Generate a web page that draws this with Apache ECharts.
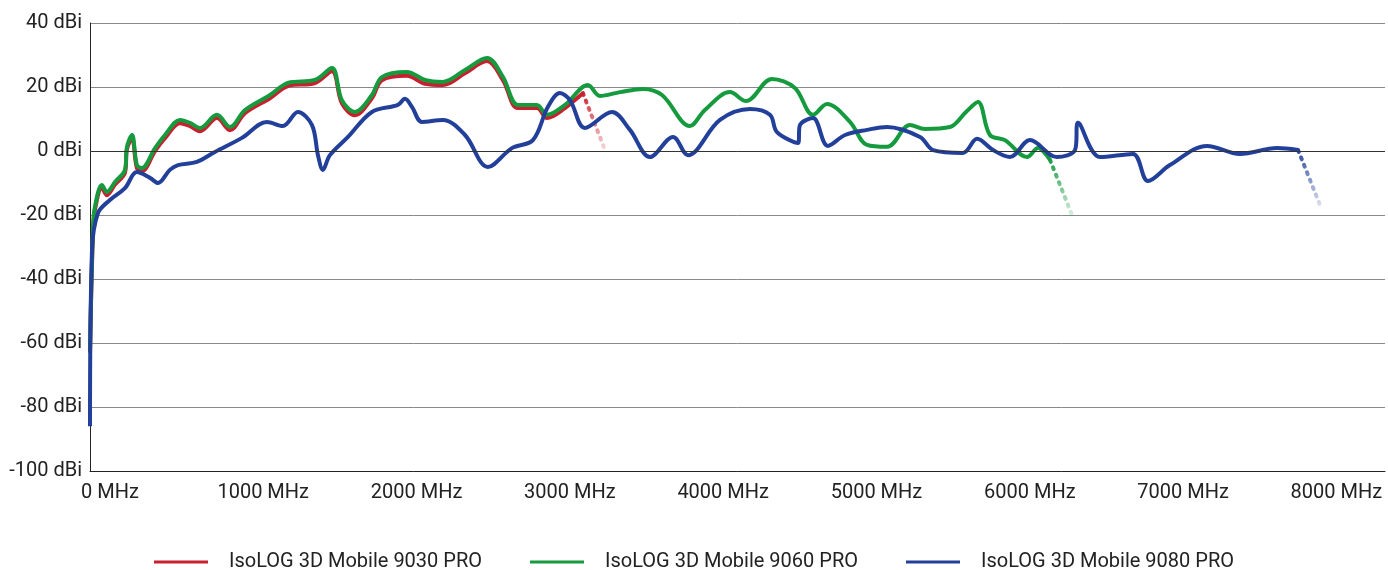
<!DOCTYPE html>
<html><head><meta charset="utf-8">
<script src="https://cdn.jsdelivr.net/npm/echarts@6/dist/echarts.min.js"></script>
<style>html,body{margin:0;padding:0;background:#fff}#c{width:1388px;height:570px}</style>
</head><body><div id="c"></div>
<script>
const xTicks = [0,1000,2000,3000,4000,5000,6000,7000,8000];
const names = ['IsoLOG 3D Mobile 9030 PRO','IsoLOG 3D Mobile 9060 PRO','IsoLOG 3D Mobile 9080 PRO'];
const colors = ['#c8202f','#169a3e','#22409a'];
const green = [[-130,-62],[-111,-25],[-98,-17.5],[-52,-10.6],[-20,-12.8],[33,-9.7],[98,-5.9],[111,1.3],[144,5],[176,-4.4],[209,-5.3],[294,0.9],[359,5],[457,9.7],[522,8.8],[587,7.2],[698,11.3],[783,7.5],[881,12.8],[1044,17.5],[1161,21.3],[1337,22.2],[1448,25.9],[1513,15.9],[1598,12.2],[1709,17.5],[1774,23.1],[1937,24.7],[2055,22.2],[2172,21.6],[2316,25.3],[2459,29.1],[2564,23.1],[2661,14.4],[2785,14.4],[2851,11.3],[2968,14.4],[3118,20.6],[3196,17.2],[3327,18.4],[3477,19.4],[3601,17.5],[3783,7.8],[3881,12.8],[4044,18.4],[4149,15.6],[4318,22.5],[4468,19.7],[4586,11.3],[4677,14.7],[4827,9.1],[4938,1.9],[5069,1.3],[5219,8.1],[5316,6.9],[5479,7.5],[5584,12.2],[5662,15.3],[5740,5],[5838,3.4],[5982,-1.9],[6053,0.9],[6132,-2.8]];
const greenTail = [[6132,-2.8],[6275,-20]];
const red = [[-130,-63],[-111,-26],[-98,-18.5],[-52,-11.5],[-20,-13.8],[33,-10.5],[98,-6.8],[111,0.5],[144,4],[176,-5.4],[209,-6.3],[294,0],[359,4],[457,8.7],[522,7.8],[587,6.2],[698,10.3],[783,6.5],[881,11.8],[1044,16.5],[1161,20.3],[1337,21.2],[1448,24.9],[1513,14.9],[1598,11.2],[1709,16.5],[1774,22.1],[1937,23.5],[2055,21],[2172,20.6],[2316,24.3],[2459,28.1],[2564,22.1],[2661,13.4],[2785,13.4],[2851,10.3],[2968,13.4],[3085,18.1]];
const redTail = [[3085,18.1],[3229,0.3]];
const blue = [[-130,-86],[-117,-31],[-78,-19.4],[0,-15.3],[98,-11.6],[176,-6.6],[261,-8.4],[313,-10],[391,-5.9],[444,-4.4],[567,-3.4],[685,-0.3],[861,4.1],[1024,9.1],[1128,7.8],[1226,12.2],[1318,8.1],[1357,-1.3],[1389,-5.9],[1435,-1.3],[1553,4.4],[1709,12.2],[1879,14.4],[1924,16.3],[1970,13.8],[2035,9.1],[2172,9.7],[2316,5],[2466,-5],[2622,0.9],[2759,3.4],[2857,13.8],[2935,18.1],[3001,15.9],[3098,7.2],[3275,12.2],[3392,6.6],[3522,-1.9],[3673,4.4],[3770,-1.3],[3979,9.7],[4175,13.1],[4305,11.3],[4351,5.9],[4488,2.5],[4501,8.1],[4586,10.3],[4683,1.6],[4795,5],[4938,6.6],[5069,7.5],[5284,4.4],[5369,0.3],[5564,-0.6],[5656,3.8],[5760,0.3],[5871,-1.9],[6001,3.4],[6177,-1.9],[6295,0.3],[6315,8.8],[6458,-1.9],[6673,-0.9],[6771,-9.4],[6914,-4.4],[7156,1.6],[7371,-0.9],[7613,0.9],[7750,0.3]];
const blueTail = [[7750,0.3],[7893,-16.9]];

function fade(c){return new echarts.graphic.LinearGradient(0,0,0,1,[{offset:0,color:c},{offset:1,color:c+'22'}]);}
function solid(name,data,c){return {name,type:'line',data,smooth:0.35,symbol:'none',lineStyle:{color:c,width:4},itemStyle:{color:c},z:c==='#c8202f'?2:3};}
function tail(data,c){return {name:'t'+c,type:'line',data,symbol:'none',lineStyle:{color:fade(c),width:4,type:[2,6],cap:'round'},z:1};}

const chart = echarts.init(document.getElementById('c'));
chart.setOption({
  animation:false,
  grid:{left:90,right:3,top:23,bottom:99},
  legend:{data:names,left:'center',top:547,icon:'rect',itemWidth:54,itemHeight:3,itemGap:48,
    textStyle:{fontSize:20,color:'#222',fontFamily:'Roboto',padding:[0,0,0,16]}},
  xAxis:{type:'value',min:-130,max:8317,
    axisLine:{onZero:false,lineStyle:{color:'#222'}},axisTick:{show:false},splitLine:{show:false},
    axisLabel:{customValues:xTicks,formatter:v=>v+' MHz',fontSize:20,color:'#222',margin:12,fontFamily:'Roboto'}},
  yAxis:{type:'value',min:-100,max:40,interval:20,
    axisLine:{show:true,onZero:false,lineStyle:{color:'#222'}},axisTick:{show:false},
    splitLine:{lineStyle:{color:'#888',width:1}},
    axisLabel:{formatter:v=>v+' dBi',fontSize:20,color:'#222',margin:8,fontFamily:'Roboto'}},
  series:[
    tail(redTail,'#c8202f'),tail(greenTail,'#169a3e'),tail(blueTail,'#22409a'),
    solid(names[0],red,colors[0]),solid(names[1],green,colors[1]),solid(names[2],blue,colors[2]),
    {type:'line',data:[],markLine:{silent:true,symbol:'none',label:{show:false},lineStyle:{color:'#333',width:1,type:'solid'},data:[{yAxis:0}]},z:0}
  ]
});
</script></body></html>
